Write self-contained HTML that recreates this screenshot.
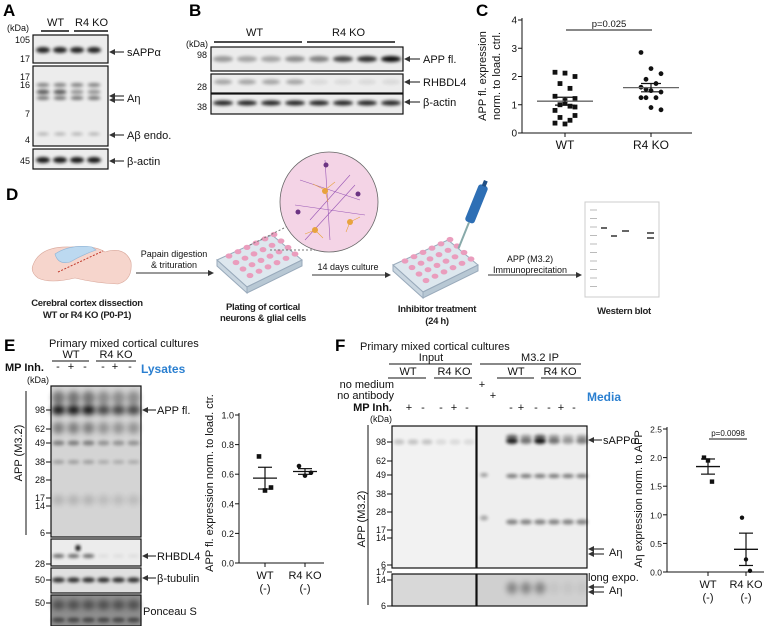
<!DOCTYPE html>
<html><head><meta charset="utf-8"><style>
html,body{margin:0;padding:0;background:#fff;}
svg{display:block;font-family:"Liberation Sans",sans-serif;}
.pl{font-weight:bold;font-size:17px;}
.t{font-size:11px;fill:#111;}
.s{font-size:9px;fill:#111;}
.d{font-size:9.5px;font-weight:bold;fill:#222;letter-spacing:-0.3px;}
</style></head><body>
<svg id="fig" width="775" height="626" viewBox="0 0 775 626" xmlns="http://www.w3.org/2000/svg">
<defs>
<filter id="b1" x="-50%" y="-100%" width="200%" height="300%"><feGaussianBlur stdDeviation="1.6"/></filter>
<filter id="b2" x="-50%" y="-100%" width="200%" height="300%"><feGaussianBlur stdDeviation="3"/></filter>
<marker id="ah" markerWidth="6" markerHeight="6" refX="5" refY="3" orient="auto-start-reverse"><path d="M0,0 L6,3 L0,6 z" fill="#333"/></marker>
</defs>

<!-- Panel A -->
<g>
<text class="pl" x="3" y="16">A</text>
<text class="t" x="47" y="26" font-size="13">WT</text><text class="t" x="75" y="26" font-size="13">R4 KO</text>
<line x1="41" y1="31" x2="69" y2="31" stroke="#111" stroke-width="1.5"/><line x1="74" y1="31" x2="108" y2="31" stroke="#111" stroke-width="1.5"/>
<text class="s" x="7" y="31">(kDa)</text>
<g id="blotA"></g>
<text class="s" x="30" y="43" text-anchor="end">105</text><text class="s" x="30" y="62" text-anchor="end">17</text>
<text class="s" x="30" y="80" text-anchor="end">17</text><text class="s" x="30" y="88" text-anchor="end">16</text>
<text class="s" x="30" y="117" text-anchor="end">7</text><text class="s" x="30" y="143" text-anchor="end">4</text>
<text class="s" x="30" y="164" text-anchor="end">45</text>
<line x1="110" y1="52" x2="124" y2="52" stroke="#111" marker-start="url(#ah)"/>
<line x1="110" y1="96" x2="124" y2="96" stroke="#111" marker-start="url(#ah)"/>
<line x1="110" y1="100" x2="124" y2="100" stroke="#111" marker-start="url(#ah)"/>
<line x1="110" y1="135" x2="124" y2="135" stroke="#111" marker-start="url(#ah)"/>
<line x1="110" y1="161" x2="124" y2="161" stroke="#111" marker-start="url(#ah)"/>
<text class="t" x="127" y="56" font-size="12">sAPPα</text><text class="t" x="127" y="102" font-size="12">Aη</text>
<text class="t" x="127" y="139" font-size="12">Aβ endo.</text><text class="t" x="127" y="165" font-size="12">β-actin</text>
</g>

<!-- Panel B -->
<g>
<text class="pl" x="189" y="16">B</text>
<text class="t" x="246" y="36" font-size="13">WT</text><text class="t" x="332" y="36" font-size="13">R4 KO</text>
<line x1="214" y1="42" x2="302" y2="42" stroke="#111" stroke-width="1.5"/><line x1="307" y1="42" x2="395" y2="42" stroke="#111" stroke-width="1.5"/>
<text class="s" x="186" y="47">(kDa)</text>
<g id="blotB"></g>
<text class="s" x="207" y="58" text-anchor="end">98</text><text class="s" x="207" y="90" text-anchor="end">28</text><text class="s" x="207" y="110" text-anchor="end">38</text>
<line x1="405" y1="59" x2="420" y2="59" stroke="#111" marker-start="url(#ah)"/>
<line x1="405" y1="82" x2="420" y2="82" stroke="#111" marker-start="url(#ah)"/>
<line x1="405" y1="102" x2="420" y2="102" stroke="#111" marker-start="url(#ah)"/>
<text class="t" x="423" y="63" font-size="12">APP fl.</text><text class="t" x="423" y="86" font-size="12">RHBDL4</text><text class="t" x="423" y="106" font-size="12">β-actin</text>
</g>

<!-- Panel C chart -->
<g id="chartC">
<text class="pl" x="476" y="16">C</text>
<text class="t" transform="translate(486,76) rotate(-90)" text-anchor="middle" font-size="10.5">APP fl. expression</text>
<text class="t" transform="translate(500,76) rotate(-90)" text-anchor="middle" font-size="10.5">norm. to load. ctrl.</text>
</g>

<!-- Panel D -->
<g>
<text class="pl" x="6" y="200">D</text>
<g>
<path d="M33,265 Q40,246 70,247 Q95,245 105,252 Q125,246 131,262 Q133,280 118,284 Q95,283 75,278 Q50,284 38,278 Q30,272 33,265z" fill="#f6d5cc" stroke="#d9a89b" stroke-width="0.6"/>
<path d="M55,254 Q70,244 92,247 L96,250 Q82,255 70,262 Q58,265 55,254z" fill="#bcd9f0" stroke="#8eb4d6" stroke-width="0.6"/>
<line x1="58" y1="272" x2="103" y2="251" stroke="#c0392b" stroke-width="1" stroke-dasharray="2,1.5"/>
</g>
<text class="d" x="87" y="306" text-anchor="middle">Cerebral cortex dissection</text>
<text class="d" x="87" y="318" text-anchor="middle">WT or R4 KO (P0-P1)</text>
<text class="s" x="174" y="257" text-anchor="middle" font-size="9.5">Papain digestion</text>
<text class="s" x="174" y="268" text-anchor="middle" font-size="9.5">&amp; trituration</text>
<line x1="136" y1="273" x2="213" y2="273" stroke="#333" marker-end="url(#ah)"/>
<g id="plate1"></g>
<line x1="250" y1="245" x2="290" y2="225" stroke="#777" stroke-dasharray="2,2"/>
<line x1="270" y1="250" x2="315" y2="250" stroke="#777" stroke-dasharray="2,2"/>
<g>
<ellipse cx="329" cy="202" rx="49" ry="50" fill="#f4d4e6" stroke="#666" stroke-width="0.8"/>
<g stroke="#9b59b6" stroke-width="0.6" fill="none">
<path d="M300,180 L360,200 M310,220 L350,175 M295,205 L365,215 M325,160 L330,240 M305,240 L355,185"/>
</g>
<g stroke="#e8a33d" stroke-width="0.6" fill="none"><path d="M325,190 l-12,-6 m12,6 l10,-8 m-10,8 l3,12 M315,230 l-10,4 m10,-4 l8,8 M350,222 l10,-5 m-10,5 l-4,10"/></g>
<circle cx="325" cy="191" r="3" fill="#e8a33d"/><circle cx="315" cy="230" r="3" fill="#e8a33d"/><circle cx="350" cy="222" r="3" fill="#e8a33d"/>
<circle cx="326" cy="165" r="2.5" fill="#6c3483"/><circle cx="298" cy="212" r="2.5" fill="#6c3483"/><circle cx="358" cy="194" r="2.5" fill="#6c3483"/>
</g>
<text class="d" x="263" y="310" text-anchor="middle">Plating of cortical</text>
<text class="d" x="263" y="321" text-anchor="middle">neurons &amp; glial cells</text>
<text class="s" x="348" y="270" text-anchor="middle" font-size="9.5">14 days culture</text>
<line x1="312" y1="275" x2="390" y2="275" stroke="#333" marker-end="url(#ah)"/>
<g id="plate2"></g>
<g transform="translate(472,215) rotate(22)">
<rect x="-5" y="-32" width="10" height="40" rx="3" fill="#2e6fb5"/>
<rect x="-2" y="-37" width="4" height="6" fill="#1f4f85"/>
<line x1="0" y1="8" x2="0" y2="36" stroke="#8aa" stroke-width="2"/>
</g>
<text class="d" x="437" y="312" text-anchor="middle">Inhibitor treatment</text>
<text class="d" x="437" y="324" text-anchor="middle">(24 h)</text>
<text class="s" x="530" y="262" text-anchor="middle" font-size="9.5">APP (M3.2)</text>
<text class="s" x="530" y="273" text-anchor="middle" font-size="9.5">Immunoprecitation</text>
<line x1="488" y1="275" x2="581" y2="275" stroke="#333" marker-end="url(#ah)"/>
<g>
<rect x="585" y="202" width="74" height="95" fill="#fff" stroke="#ccc"/>
<g id="wbIcon"></g>
</g>
<text class="d" x="624" y="314" text-anchor="middle">Western blot</text>
</g>

<!-- Panel E -->
<g>
<text class="pl" x="4" y="351">E</text>
<text class="t" x="49" y="347" font-size="13">Primary mixed cortical cultures</text>
<text class="t" x="71" y="358" text-anchor="middle">WT</text><text class="t" x="116" y="358" text-anchor="middle">R4 KO</text>
<line x1="52" y1="361" x2="89" y2="361" stroke="#111"/><line x1="96" y1="361" x2="136" y2="361" stroke="#111"/>
<text class="t" x="5" y="371" font-weight="bold">MP Inh.</text>
<g id="signsE"></g>
<text x="141" y="373" font-size="12" font-weight="bold" fill="#2a7fd0">Lysates</text>
<text class="s" x="27" y="383">(kDa)</text>
<line x1="26" y1="391" x2="26" y2="535" stroke="#111"/>
<text class="t" transform="translate(22,453) rotate(-90)" text-anchor="middle" font-size="12">APP (M3.2)</text>
<g id="blotE"></g>
<g id="kdaE"></g>
<line x1="143" y1="410" x2="156" y2="410" stroke="#111" marker-start="url(#ah)"/>
<text class="t" x="157" y="414" font-size="12">APP fl.</text>
<line x1="143" y1="556" x2="156" y2="556" stroke="#111" marker-start="url(#ah)"/>
<text class="t" x="157" y="560" font-size="12">RHBDL4</text>
<line x1="143" y1="578" x2="156" y2="578" stroke="#111" marker-start="url(#ah)"/>
<text class="t" x="157" y="582" font-size="12">β-tubulin</text>
<text class="t" x="143" y="615" font-size="12">Ponceau S</text>
</g>
<g id="chartE">
<text class="t" transform="translate(213,483) rotate(-90)" text-anchor="middle" font-size="10.5">APP fl. expression norm. to load. ctr.</text>
</g>

<!-- Panel F -->
<g>
<text class="pl" x="335" y="351">F</text>
<text class="t" x="360" y="350" font-size="13">Primary mixed cortical cultures</text>
<text class="t" x="431" y="361" text-anchor="middle">Input</text><text class="t" x="540" y="361" text-anchor="middle">M3.2 IP</text>
<line x1="389" y1="364" x2="472" y2="364" stroke="#111"/><line x1="480" y1="364" x2="581" y2="364" stroke="#111"/>
<text class="t" x="408" y="375" text-anchor="middle">WT</text><text class="t" x="454" y="375" text-anchor="middle">R4 KO</text>
<text class="t" x="516" y="375" text-anchor="middle">WT</text><text class="t" x="560" y="375" text-anchor="middle">R4 KO</text>
<line x1="388" y1="378" x2="426" y2="378" stroke="#111"/><line x1="434" y1="378" x2="472" y2="378" stroke="#111"/>
<line x1="497" y1="378" x2="534" y2="378" stroke="#111"/><line x1="541" y1="378" x2="581" y2="378" stroke="#111"/>
<text class="t" x="394" y="388" text-anchor="end">no medium</text>
<text class="t" x="394" y="399" text-anchor="end">no antibody</text>
<text class="t" x="482" y="388" text-anchor="middle">+</text><text class="t" x="493" y="399" text-anchor="middle">+</text>
<text x="587" y="401" font-size="12" font-weight="bold" fill="#2a7fd0">Media</text>
<text class="t" x="392" y="411" text-anchor="end" font-weight="bold">MP Inh.</text>
<g id="signsF"></g>
<text class="s" x="370" y="422">(kDa)</text>
<line x1="368" y1="425" x2="368" y2="605" stroke="#111"/>
<text class="t" transform="translate(365,519) rotate(-90)" text-anchor="middle" font-size="12">APP (M3.2)</text>
<g id="blotF"></g>
<g id="kdaF"></g>
<line x1="589" y1="440" x2="602" y2="440" stroke="#111" marker-start="url(#ah)"/>
<text class="t" x="603" y="444" font-size="12">sAPPα</text>
<line x1="589" y1="549" x2="604" y2="549" stroke="#111" marker-start="url(#ah)"/>
<line x1="589" y1="554" x2="604" y2="554" stroke="#111" marker-start="url(#ah)"/>
<text class="t" x="609" y="556" font-size="12">Aη</text>
<text class="t" x="588" y="581" font-size="11.5">long expo.</text>
<line x1="589" y1="587" x2="604" y2="587" stroke="#111" marker-start="url(#ah)"/>
<line x1="589" y1="592" x2="604" y2="592" stroke="#111" marker-start="url(#ah)"/>
<text class="t" x="609" y="594" font-size="12">Aη</text>
</g>
<g id="chartF">
<text class="t" transform="translate(642,499) rotate(-90)" text-anchor="middle" font-size="10.5">Aη expression norm. to APP</text>
</g>
</svg>
<script>
// ---- chart data ----
const cCategories = ["WT", "R4 KO"];
const cWT = [2.15, 2.12, 2.0, 1.75, 1.58, 1.3, 1.15, 1.22, 1.0, 0.95, 0.8, 1.05, 0.62, 0.55, 0.45, 0.35, 0.32, 0.92];
const cKO = [2.85, 2.28, 2.1, 1.9, 1.75, 1.62, 1.5, 1.45, 1.25, 1.25, 1.25, 0.9, 0.82, 1.55];
const cTicks = [0, 1, 2, 3, 4];
const cPText = "p=0.025";

const eCategories = ["WT", "R4 KO"];
const eWT = [0.72, 0.49, 0.51];
const eKO = [0.655, 0.59, 0.61];
const eTicks = ["0.0", "0.2", "0.4", "0.6", "0.8", "1.0"];

const fCategories = ["WT", "R4 KO"];
const fWT = [2.0, 1.95, 1.58];
const fKO = [0.95, 0.22, 0.02];
const fTicks = ["0.0", "0.5", "1.0", "1.5", "2.0", "2.5"];
const fPText = "p=0.0098";

const NS = "http://www.w3.org/2000/svg";
function mk(parent, tag, attrs, text) {
  const e = document.createElementNS(NS, tag);
  for (const k in attrs) e.setAttribute(k, attrs[k]);
  if (text !== undefined) e.textContent = text;
  parent.appendChild(e);
  return e;
}
function mean(a){return a.reduce((s,v)=>s+v,0)/a.length;}
function sem(a){const m=mean(a);const sd=Math.sqrt(a.reduce((s,v)=>s+(v-m)*(v-m),0)/(a.length-1));return sd/Math.sqrt(a.length);}

function scatterChart(g, o) {
  const y = v => o.y0 - (v - o.vmin) / (o.vmax - o.vmin) * (o.y0 - o.y1);
  const ax = mk(g, "line", {x1:o.ax, y1:o.y1-2, x2:o.ax, y2:o.y0, stroke:"#111"});
  
  
  mk(g, "line", {x1:o.ax, y1:o.y0, x2:o.xend, y2:o.y0, stroke:"#111"});
  o.ticks.forEach(t => {
    const v = parseFloat(t), yy = y(v);
    mk(g, "line", {x1:o.ax-4, y1:yy, x2:o.ax, y2:yy, stroke:"#111"});
    const tl = mk(g, "text", {x:o.ax-5, y:yy+3.5, "text-anchor":"end", "font-size":o.fs, fill:"#111"}, String(t));
    
    
  });
  o.cats.forEach((c, i) => {
    const cx = o.xs[i];
    mk(g, "line", {x1:cx, y1:o.y0, x2:cx, y2:o.y0+4, stroke:"#111"});
    const xl = mk(g, "text", {x:cx, y:o.y0+16, "text-anchor":"middle", "font-size":o.xfs, fill:"#111"}, c);
    
    
    if (o.sub) mk(g, "text", {x:cx, y:o.y0+29, "text-anchor":"middle", "font-size":o.xfs, fill:"#111"}, "(-)");
    const data = o.series[i];
    data.forEach((v, j) => {
      const jx = cx + ((j * 7) % 5 - 2) * o.jit;
      let p;
      if (i === 0) p = mk(g, "rect", {x:jx-o.r, y:y(v)-o.r, width:o.r*2, height:o.r*2, fill:"#111"});
      else p = mk(g, "circle", {cx:jx, cy:y(v), r:o.r, fill:"#111"});
      
      
    });
    const m = mean(data), s = sem(data);
    const ml = mk(g, "line", {x1:cx-o.mw, y1:y(m), x2:cx+o.mw, y2:y(m), stroke:o.mc, "stroke-width":1.3});
    
    
    mk(g, "line", {x1:cx, y1:y(m+s), x2:cx, y2:y(m-s), stroke:"#111", "stroke-width":1.2});
    mk(g, "line", {x1:cx-o.ew, y1:y(m+s), x2:cx+o.ew, y2:y(m+s), stroke:"#111", "stroke-width":1.2});
    mk(g, "line", {x1:cx-o.ew, y1:y(m-s), x2:cx+o.ew, y2:y(m-s), stroke:"#111", "stroke-width":1.2});
  });
  if (o.p) {
    mk(g, "line", {x1:o.px[0], y1:o.py, x2:o.px[1], y2:o.py, stroke:"#111"});
    const pt = mk(g, "text", {x:(o.px[0]+o.px[1])/2, y:o.py-3, "text-anchor":"middle", "font-size":o.fs-0.5, fill:"#111"}, o.p);
    
    
  }
}
scatterChart(document.getElementById("chartC"), {ax:522, xend:692, y0:133, y1:20, vmin:0, vmax:4, ticks:cTicks, cats:cCategories, xs:[565,651], series:[cWT,cKO], r:2.4, jit:5, mw:28, ew:10, mc:"#666", fs:10, xfs:12, p:cPText, px:[566,652], py:30});
scatterChart(document.getElementById("chartE"), {ax:239, xend:324, y0:563, y1:415, vmin:0, vmax:1, ticks:eTicks, cats:eCategories, xs:[265,305], series:[eWT,eKO], r:2.3, jit:3, mw:12, ew:7, mc:"#111", fs:9, xfs:11, sub:true});
scatterChart(document.getElementById("chartF"), {ax:667, xend:764, y0:572, y1:429, vmin:0, vmax:2.5, ticks:fTicks, cats:fCategories, xs:[708,746], series:[fWT,fKO], r:2.2, jit:2, mw:12, ew:7, mc:"#111", fs:8.5, xfs:11, sub:true, p:fPText, px:[709,747], py:439});

// ---- blots (illustrative) ----
function box(g, x, y, w, h, bg) {
  mk(g, "rect", {x:x, y:y, width:w, height:h, fill:bg||"#ececec", stroke:"#111", "stroke-width":1.2});
}
function band(g, cx, cy, w, h, op, blur) {
  mk(g, "ellipse", {cx:cx, cy:cy, rx:w/2, ry:h/2, fill:"#000", opacity:op, filter:"url(#"+(blur||"b1")+")"});
}
const A = document.getElementById("blotA");
box(A, 33, 35, 75, 28); box(A, 33, 66, 75, 80); box(A, 33, 149, 75, 20);
[43,60,77,94].forEach((x,i)=>{
  band(A,x,50,14,6,0.85);
  band(A,x,85,13,4,0.45); band(A,x,92,13,5,i<2?0.6:0.35); band(A,x,98,13,4,0.5);
  band(A,x,134,12,3,0.25); band(A,x,160,14,6,0.9);
});
const B = document.getElementById("blotB");
box(B, 211, 47, 192, 24); box(B, 211, 74, 192, 19); box(B, 211, 94, 192, 20);
const bInt = [0.35,0.3,0.3,0.4,0.45,0.7,0.8,0.95];
for (let i=0;i<8;i++){ const x=223+24*i;
  band(B,x,59,20,6,bInt[i]); band(B,x,82,18,5,i<4?0.3:0.08); band(B,x,103,20,5,0.85); }
const E = document.getElementById("blotE");
box(E, 51, 386, 90, 151, "#d4d4d4"); box(E, 51, 539, 90, 27, "#ececec"); box(E, 51, 568, 90, 25, "#e0e0e0"); box(E, 51, 595, 90, 31, "#8e8e8e");
for (let i=0;i<6;i++){ const x=58.5+15*i, k=i<3?1:0.75;
  band(E,x,398,13,14,0.45*k,"b2"); band(E,x,410,14,10,0.9*k,"b2"); band(E,x,428,12,12,0.4*k,"b2");
  band(E,x,443,12,5,0.4*k); band(E,x,462,12,4,0.25*k); band(E,x,500,12,10,0.15*k,"b2");
  band(E,x,556,12,4,i<3?0.55:0.05); band(E,x,580,13,5,0.8); band(E,x,605,13,10,0.45,"b2"); band(E,x,620,13,5,0.5);
}
band(E,78,548,5,6,1);
const kE = document.getElementById("kdaE");
[["98",410],["62",429],["49",443],["38",462],["28",480],["17",498],["14",506],["6",533],["28",564],["50",580],["50",603]].forEach(([t,y])=>{
  mk(kE,"text",{x:45,y:y+3,"text-anchor":"end","font-size":9,fill:"#111"},t);
  mk(kE,"line",{x1:46,y1:y,x2:51,y2:y,stroke:"#111"});
});
const sE = document.getElementById("signsE");
["-","+","-","-","+","-"].forEach((s,i)=>mk(sE,"text",{x:[58,71,85,103,115,130][i],y:370,"text-anchor":"middle","font-size":11,fill:"#111"},s));
const sF = document.getElementById("signsF");
const fSx=[409,423,441,454,467,511,521,536,549,561,574], fSs=["+","-","-","+","-","-","+","-","-","+","-"];
fSs.forEach((s,i)=>mk(sF,"text",{x:fSx[i],y:411,"text-anchor":"middle","font-size":11,fill:"#111"},s));
const F = document.getElementById("blotF");
box(F, 392, 426, 84, 142, "#f2f2f2"); box(F, 477, 426, 110, 142, "#eeeeee");
box(F, 392, 574, 84, 32, "#d8d8d8"); box(F, 477, 574, 110, 32, "#d0d0d0");
[399,413,427,441,455,469].forEach((x,i)=>band(F,x,442,11,5,i<3?0.2:0.1));
band(F,484,475,8,4,0.35); band(F,484,518,8,5,0.3);
const fI=[0.85,0.5,0.9,0.5,0.35,0.45];
[512,526,540,554,568,582].forEach((x,i)=>{
  band(F,x,437,12,5,fI[i]*0.6); band(F,x,441,12,6,fI[i]); band(F,x,476,12,4,0.5); band(F,x,522,12,5,0.45);
  band(F,x,588,11,12,i<3?0.35:0.05,"b2");
});
const kF = document.getElementById("kdaF");
[["98",442],["62",461],["49",475],["38",494],["28",512],["17",530],["14",538],["6",565],["17",572],["14",580],["6",606]].forEach(([t,y])=>{
  mk(kF,"text",{x:386,y:y+3,"text-anchor":"end","font-size":9,fill:"#111"},t);
  mk(kF,"line",{x1:387,y1:y,x2:392,y2:y,stroke:"#111"});
});
// ---- plates ----
function plate(g, x, y) {
  mk(g,"path",{d:`M${x},${y+25} L${x+55},${y} L${x+85},${y+25} L${x+30},${y+52} z`,fill:"#dde7ee",stroke:"#9ab"});
  mk(g,"path",{d:`M${x},${y+25} L${x+30},${y+52} L${x+30},${y+58} L${x},${y+31} z`,fill:"#c9d6e0",stroke:"#9ab"});
  mk(g,"path",{d:`M${x+30},${y+52} L${x+85},${y+25} L${x+85},${y+31} L${x+30},${y+58} z`,fill:"#b8c8d4",stroke:"#9ab"});
  for (let r=0;r<4;r++) for (let c=0;c<6;c++){
    const px = x+12+c*9+r*7, py = y+25-c*4.3+r*6.5-8+4;
    mk(g,"ellipse",{cx:px,cy:py,rx:3.4,ry:2.6,fill:"#ea9dbd"});
  }
}
plate(document.getElementById("plate1"), 217, 235);
plate(document.getElementById("plate2"), 393, 240);
const wb = document.getElementById("wbIcon");
for (let i=0;i<10;i++) mk(wb,"line",{x1:590,y1:210+i*8.5,x2:597,y2:210+i*8.5,stroke:"#bbb","stroke-width":1});
mk(wb,"line",{x1:601,y1:228,x2:607,y2:228,stroke:"#333","stroke-width":1.5});
mk(wb,"line",{x1:611,y1:236,x2:617,y2:236,stroke:"#333","stroke-width":1.5});
mk(wb,"line",{x1:622,y1:231,x2:629,y2:231,stroke:"#333","stroke-width":1.5});
mk(wb,"line",{x1:647,y1:233,x2:654,y2:233,stroke:"#333","stroke-width":1.5});
mk(wb,"line",{x1:647,y1:238,x2:654,y2:238,stroke:"#333","stroke-width":1.5});
</script>
</body></html>
